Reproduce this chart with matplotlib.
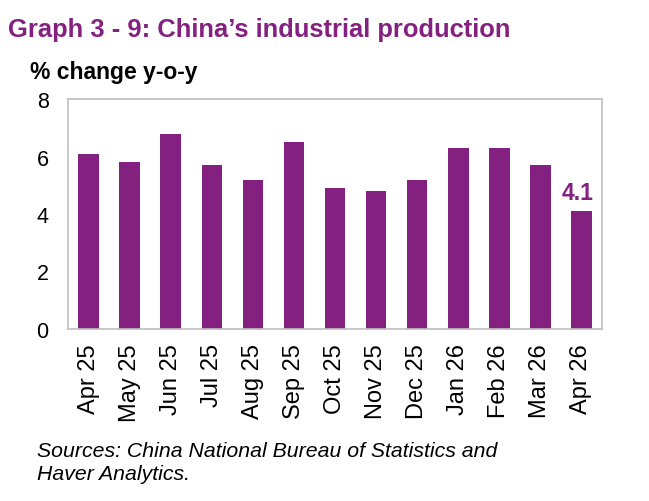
import numpy as np
import matplotlib.pyplot as plt

plt.rcParams['font.family'] = ['Liberation Sans', 'DejaVu Sans']

months = ['Apr 25', 'May 25', 'Jun 25', 'Jul 25', 'Aug 25', 'Sep 25', 'Oct 25',
          'Nov 25', 'Dec 25', 'Jan 26', 'Feb 26', 'Mar 26', 'Apr 26']
growth = [6.1, 5.8, 6.8, 5.7, 5.2, 6.5, 4.9, 4.8, 5.2, 6.3, 6.3, 5.7, 4.1]

purple = '#84207f'

fig = plt.figure(figsize=(6.49, 5.02), dpi=100)
ax = fig.add_axes([68 / 649, 1 - 330 / 502, 534 / 649, 230 / 502])

x = np.arange(len(months))
ax.bar(x, growth, width=0.5, color=purple)

ax.set_ylim(0, 8)
ax.set_xlim(-0.5, len(months) - 0.5)
ax.set_yticks([0, 2, 4, 6, 8])
ax.set_xticks(x)
ax.set_xticklabels(months, rotation=90)
ax.tick_params(axis='x', length=0, labelsize=17, pad=10)
ax.tick_params(axis='y', length=0, labelsize=15.5, pad=14)
for s in ax.spines.values():
    s.set_color('#bfbfbf')
    s.set_linewidth(1.2)

# label on latest month
ax.text(x[-1] - 0.09, growth[-1] + 0.42, f'{growth[-1]:.1f}', ha='center', va='baseline',
        color=purple, fontsize=16.5, fontweight='bold')

fig.text(8 / 649, 1 - 30 / 502, 'Graph 3 - 9: China\u2019s industrial production',
         color=purple, fontsize=18.4, fontweight='bold', va='center', ha='left')
fig.text(30 / 649, 1 - 72 / 502, '% change y-o-y', fontsize=16.5, fontweight='bold',
         va='center', ha='left')
fig.text(37 / 649, 1 - 452 / 502, 'Sources: China National Bureau of Statistics and',
         fontsize=15.3, style='italic', va='center', ha='left')
fig.text(37 / 649, 1 - 475 / 502, 'Haver Analytics.',
         fontsize=15.3, style='italic', va='center', ha='left')

fig.savefig('out.png', dpi=100)
